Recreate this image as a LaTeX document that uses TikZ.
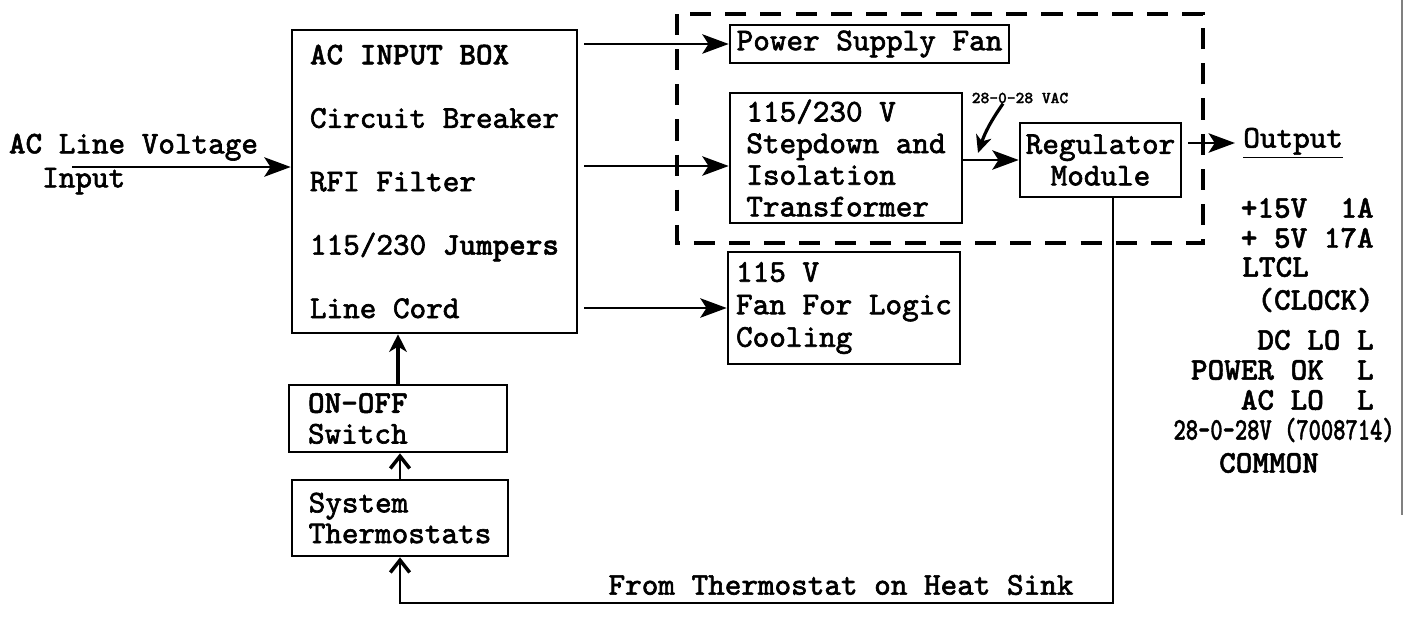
\documentclass[tikz,border=0pt]{standalone}
\usepackage{fontspec}
\setmonofont{lmmono10-regular.otf}[
    UprightFeatures={FakeBold=2},
    BoldFont=lmmonolt10-bold.otf,
    BoldFeatures={FakeBold=1.5}]
\usetikzlibrary{arrows.meta}

\newcommand{\twfont}[1]{\ttfamily\fontsize{18}{#1}\selectfont}

\begin{document}
\begin{tikzpicture}[
    x=0.02cm, y=-0.02cm,
    >={Stealth[length=15pt,width=11pt,inset=3.5pt]},
    font=\twfont{18},
    unit/.style={draw, line width=1.5pt, inner sep=0pt, align=left},
    flow/.style={->, line width=1.6pt},
    upflow/.style={-{Straight Barb[length=7pt,width=11pt,line width=2pt]}, line width=1.6pt},
    sig/.style={inner sep=0pt},
    rcol/.style={inner sep=0pt, anchor=east, font=\twfont{18}\bfseries}
]
\useasboundingbox (0,0) rectangle (1404,622);

% power supply outline
\draw[line width=1.8pt, dash pattern=on 12pt off 8pt] (677,14) rectangle (1203,243);
\draw[gray, line width=0.8pt] (1402,0) -- (1402,515);

\node[unit, minimum width=5.7cm, minimum height=6.06cm, font=\twfont{36.1}] (acbox) at (434.5,181.5)
{\textbf{AC INPUT BOX}\\
Circuit Breaker\\
RFI Filter\\
115/230 \textbf{Jumpers}\\
Line Cord};

\node[unit, minimum width=5.58cm, minimum height=0.76cm] (psfan) at (869.5,44) {Power Supply Fan};

\node[unit, minimum width=4.64cm, minimum height=2.6cm] (xfmr) at (846,158)
{115/230 V\\
Stepdown and\\
Isolation\\
Transformer};

\node[unit, align=center, minimum width=3.22cm, minimum height=1.48cm] (regmod) at (1100.5,160)
{Regulator\\ Module};

\node[unit, minimum width=4.64cm, minimum height=2.24cm, font=\twfont{18.5}] (logicfan) at (844,308)
{115 V\\
Fan For Logic\\
Cooling};

\node[unit, minimum width=4.36cm, minimum height=1.34cm, text width=3.6cm, font=\twfont{17.5}] (onoff) at (398,418.5)
{\textbf{ON-OFF}\\
Switch};

\node[unit, minimum width=4.32cm, minimum height=1.52cm, font=\twfont{17.5}] (thermo) at (400,518)
{System\\
Thermostats};

\node[sig, align=left, font=\twfont{19.3}] (acinlbl) at (133.5,164)
{\textbf{AC} Line Voltage\\
\hphantom{AC}Input};
\coordinate (acin) at (72,167);
\draw[flow] (acin) -- (acin -| acbox.west);

\coordinate (xin) at ([yshift=-0.16cm]xfmr.west);
\draw[flow, shorten <=0.12cm] (acbox.east |- psfan.west) -- (psfan.west);
\draw[flow, shorten <=0.12cm] (acbox.east |- xin) -- (xin);
\draw[flow, shorten <=0.12cm] (acbox.east |- logicfan.west) -- (logicfan.west);
\draw[flow] (xfmr.east |- regmod.west) -- (regmod.west);

\node[sig, font=\ttfamily\bfseries\fontsize{9.5}{10}\selectfont] (vaclbl) at (1020,98) {28-0-28 VAC};
\coordinate (vacpt) at (978,153);
\draw[-{Stealth[length=10pt,width=9pt,inset=3pt]}, line width=1.8pt] ([xshift=-0.34cm]vaclbl.south) to[bend right=8] (vacpt);

\node[sig, anchor=west] (outlbl) at (1243,143) {\underline{Output}};
\draw[flow, shorten <=0.12cm, shorten >=0.16cm] (regmod.east |- outlbl.west) -- (outlbl.west);

\node[rcol] (r15) at (1374,208) {+15V\ \ 1A};
\node[rcol] (r5) at (1374,238) {+ 5V 17A};
\node[rcol, anchor=west] (ltcl) at (1242,267) {LTCL};
\node[rcol] (clock) at (1374,300) {(CLOCK)};
\node[rcol] (dclo) at (1374,340) {DC LO L};
\node[rcol] (pwrok) at (1374,370) {POWER OK\ \ L};
\node[rcol] (aclo) at (1374,400) {AC LO\ \ L};
\node[rcol] (v28) at (1395,430) {\scalebox{0.74}[1]{28-0-28V (7008714)}};
\node[rcol, anchor=center] (common) at (1269,463) {COMMON};

\draw[->, >={Stealth[length=10pt,width=10pt,inset=3pt]}, line width=1.8pt] (onoff.north) -- (onoff.north |- acbox.south);
\draw[upflow] (thermo.north) -- (thermo.north |- onoff.south);

\coordinate (fbr) at (1113,603);
\draw[upflow] (regmod.south -| fbr) -- (fbr) -| (thermo.south);
\node[sig] (fblbl) at (841,585) {From Thermostat on Heat Sink};

\end{tikzpicture}
\end{document}
